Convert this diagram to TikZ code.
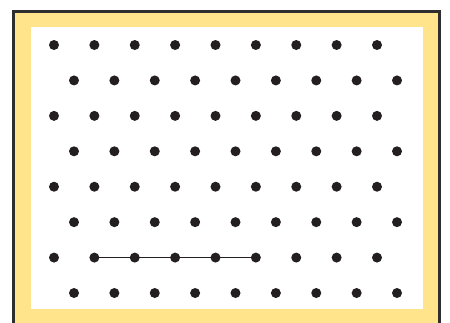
\documentclass[tikz,border=0pt]{standalone}
\usepackage{tikz}
\usetikzlibrary{calc,backgrounds}

\definecolor{frameyellow}{HTML}{FFE48C}
\definecolor{framedark}{HTML}{2E2E2E}
\definecolor{dotblack}{HTML}{231F20}

\begin{document}
\begin{tikzpicture}[
    x=1pt, y=-1pt,
    dot/.style={
        circle,
        fill=dotblack,
        inner sep=0pt,
        minimum size=10pt
    },
    board/.style={
        draw=framedark,
        line width=3pt,
        fill=frameyellow
    },
    segment/.style={
        draw=dotblack,
        line width=1.7pt
    }
]

\useasboundingbox (0,0) rectangle (450,322);

% ------------------------------------------------
% Dot grid (staggered rows)
% ------------------------------------------------

\foreach \r in {1,...,8} {
    \foreach \c in {1,...,9} {
        \pgfmathsetmacro{\xpos}{54 + (\c-1)*40.375 + mod(\r-1,2)*20}
        \pgfmathsetmacro{\ypos}{45 + (\r-1)*35.43}
        \node[dot] (d-\r-\c) at (\xpos,\ypos) {};
    }
}

% ------------------------------------------------
% Frame and segment (behind the dots)
% ------------------------------------------------

\begin{scope}[on background layer]
    \path[board] (13.5,11.5) rectangle (439.5,340);
    \fill[white] (31,27) rectangle (423,309);
    \draw[segment] (d-7-2.center) -- (d-7-6.center);
\end{scope}

\end{tikzpicture}
\end{document}
